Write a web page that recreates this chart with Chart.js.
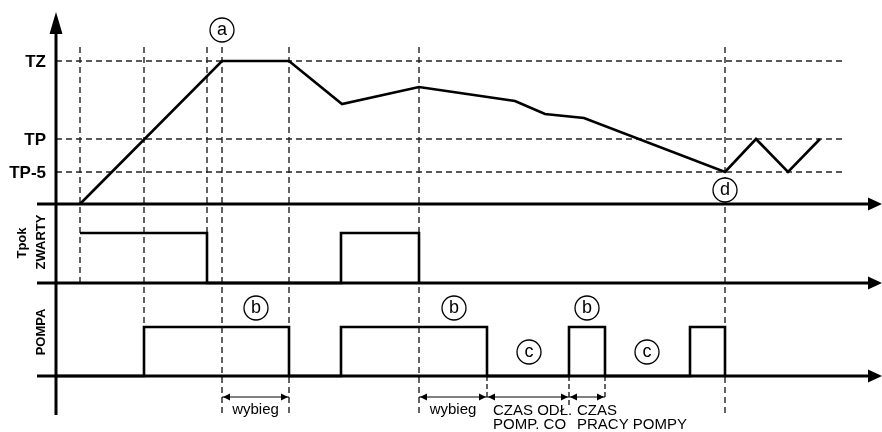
<!DOCTYPE html>
<html>
<head>
<title>Praca pompy CO - diagram</title>
<script src="https://cdn.jsdelivr.net/npm/chart.js"></script>
<style>
    body { margin: 0; background: #fff; }
    canvas { display: block; }
</style>
</head>
<body>
<canvas id="diagram" width="882" height="432"></canvas>
<script>
// temperatura (wysokosc nad osia czasu) w kolejnych chwilach
const tempTimes  = [80, 222, 289, 342, 419, 515, 545, 584, 725, 756, 788, 820];
const tempValues = [0, 143, 143, 100, 117, 103, 90, 86, 32, 65, 32, 65];
const tempLevels = [143, 65, 32];
const tempLabels = ['TZ', 'TP', 'TP-5'];

// Tpok zwarty (1) / rozwarty (0) - stan trzymany od danej chwili
const tpokTimes  = [80, 207, 341, 419];
const tpokStates = [1, 0, 1, 0];

// pompa wl (1) / wyl (0)
const pompaTimes  = [56, 144, 289, 341, 487, 569, 605, 690, 725];
const pompaStates = [0, 1, 0, 1, 0, 1, 0, 1, 0];

// chwile zaznaczone pionowymi liniami
const markTimes = [80, 144, 207, 222, 289, 419, 725];
const markEnds  = ['tpok', 'pompaHigh', 'tpok', 'bottom', 'bottom', 'bottom', 'bottom'];

// odcinki czasu opisane pod wykresem
const spanStarts = [222, 419, 487, 569];
const spanEnds   = [289, 487, 569, 605];
const spanTexts  = [['wybieg'], ['wybieg'], ['CZAS ODŁ.', 'POMP. CO'], ['CZAS', 'PRACY POMPY']];

// znaczniki w kolkach
const tagLetters = ['a', 'd', 'b', 'b', 'b', 'c', 'c'];
const tagTimes   = [222, 725, 256, 454, 587, 529, 647];
const tagRows    = ['top', 'tempLow', 'pompaTag', 'pompaTag', 'pompaTag', 'pompaMid', 'pompaMid'];

// uklad (piksele wykresu)
const L = {
    axisX: 56, axisLeft: 37, axisRight: 880, guideRight: 843,
    tempBase: 204, tpokBase: 283, pompaBase: 376, tpokAmp: 50, pompaAmp: 49,
    guideTop: 47, bottom: 415, spanY: 397
};
const rowY = {
    top: 30, tempLow: 190, pompaTag: 308, pompaMid: 352,
    tpok: L.tpokBase, pompaHigh: L.pompaBase - L.pompaAmp, bottom: L.bottom
};

const pts = (xs, ys) => xs.map((t, i) => ({x: t, y: ys[i]}));
const DASH = [6, 4];

const datasets = [];
// poziome linie pomocnicze TZ / TP / TP-5
tempLevels.forEach(v => {
    datasets.push({ data: pts([L.axisX, L.guideRight], [L.tempBase - v, L.tempBase - v]),
        borderColor: '#222', borderWidth: 1.4, borderDash: DASH, order: 5 });
});
// pionowe linie pomocnicze
markTimes.forEach((t, i) => {
    datasets.push({ data: pts([t, t], [L.guideTop, rowY[markEnds[i]]]),
        borderColor: '#222', borderWidth: 1.4, borderDash: DASH, order: 5 });
});
// krotkie pionowe przy odcinkach
[487, 569, 605].forEach((t, i) => {
    datasets.push({ data: pts([t, t], [L.pompaBase, [398, 407, 398][i]]),
        borderColor: '#222', borderWidth: 1.4, borderDash: [5, 3], order: 5 });
});
// osie
[L.tempBase, L.tpokBase, L.pompaBase].forEach(yb => {
    datasets.push({ data: pts([L.axisLeft, L.axisRight - 8], [yb, yb]),
        borderColor: '#000', borderWidth: 3, order: 2 });
});
datasets.push({ data: pts([L.axisX, L.axisX], [L.bottom, 28]),
    borderColor: '#000', borderWidth: 3, order: 2 });
// przebiegi
datasets.push({ data: pts(tempTimes, tempValues.map(v => L.tempBase - v)),
    borderColor: '#000', borderWidth: 2.6, order: 1 });
datasets.push({ data: pts(tpokTimes, tpokStates.map(s => L.tpokBase - s * L.tpokAmp)),
    borderColor: '#000', borderWidth: 2.6, stepped: true, order: 1 });
datasets.push({ data: pts(pompaTimes, pompaStates.map(s => L.pompaBase - s * L.pompaAmp)),
    borderColor: '#000', borderWidth: 2.6, stepped: true, order: 1 });
// odcinki wymiarowe
spanStarts.forEach((s, i) => {
    datasets.push({ data: pts([s, spanEnds[i]], [L.spanY, L.spanY]),
        borderColor: '#000', borderWidth: 1, order: 1 });
});

const FONT = '"Liberation Sans", Arial, sans-serif';

const extras = {
    id: 'extras',
    afterDatasetsDraw(chart) {
        const {ctx, scales: {x, y}} = chart;
        const X = v => x.getPixelForValue(v), Y = v => y.getPixelForValue(v);
        ctx.save();
        ctx.fillStyle = '#000';

        const tri = (a, b, c) => {
            ctx.beginPath(); ctx.moveTo(a[0], a[1]); ctx.lineTo(b[0], b[1]); ctx.lineTo(c[0], c[1]);
            ctx.closePath(); ctx.fill();
        };
        // groty osi
        [L.tempBase, L.tpokBase, L.pompaBase].forEach(yb => {
            tri([X(L.axisRight + 2), Y(yb)], [X(L.axisRight - 12), Y(yb) - 6.5], [X(L.axisRight - 12), Y(yb) + 6.5]);
        });
        tri([X(L.axisX), Y(12)], [X(L.axisX) - 6.5, Y(34)], [X(L.axisX) + 6.5, Y(34)]);

        // groty odcinkow wymiarowych
        spanStarts.forEach((s, i) => {
            const e = spanEnds[i], yy = Y(L.spanY);
            tri([X(s) + 1, yy], [X(s) + 8, yy - 3.5], [X(s) + 8, yy + 3.5]);
            tri([X(e) - 1, yy], [X(e) - 8, yy - 3.5], [X(e) - 8, yy + 3.5]);
        });

        // opisy poziomow temperatury
        ctx.font = 'bold 17px ' + FONT;
        ctx.textAlign = 'right';
        ctx.textBaseline = 'middle';
        tempLevels.forEach((v, i) => ctx.fillText(tempLabels[i], X(46), Y(L.tempBase - v) + 1));

        // opisy wierszy (pionowo)
        ctx.font = 'bold 13px ' + FONT;
        ctx.textAlign = 'center';
        const vText = (t, cx, cy) => {
            ctx.save(); ctx.translate(cx, cy); ctx.rotate(-Math.PI / 2);
            ctx.fillText(t, 0, 0); ctx.restore();
        };
        vText('Tpok', X(22), Y(243));
        vText('ZWARTY', X(41), Y(242));
        vText('POMPA', X(41), Y(332));

        // opisy odcinkow
        ctx.font = '15px ' + FONT;
        spanTexts.forEach((lines, i) => {
            const single = lines.length === 1;
            ctx.textAlign = single ? 'center' : 'left';
            const tx = single ? X((spanStarts[i] + spanEnds[i]) / 2) : X(spanStarts[i]) + (i === 3 ? 8 : 6);
            lines.forEach((ln, k) => ctx.fillText(ln, tx, Y(single ? 410 : 411 + k * 14)));
        });

        // znaczniki w kolkach
        ctx.font = '18px ' + FONT;
        ctx.textAlign = 'center';
        tagLetters.forEach((l, i) => {
            const cx = X(tagTimes[i]), cy = Y(rowY[tagRows[i]]);
            ctx.beginPath(); ctx.arc(cx, cy, 12, 0, Math.PI * 2);
            ctx.fillStyle = '#fff'; ctx.fill();
            ctx.lineWidth = 1.3; ctx.strokeStyle = '#000'; ctx.stroke();
            ctx.fillStyle = '#000';
            ctx.fillText(l, cx, cy);
        });
        ctx.restore();
    }
};

new Chart(document.getElementById('diagram'), {
    type: 'line',
    data: { datasets: datasets },
    options: {
        responsive: false,
        animation: false,
        devicePixelRatio: 1,
        layout: { padding: 0 },
        elements: { point: { radius: 0 }, line: { tension: 0, borderCapStyle: 'butt' } },
        plugins: { legend: { display: false }, tooltip: { enabled: false } },
        scales: {
            x: { type: 'linear', display: false, min: 0, max: 882 },
            y: { type: 'linear', display: false, min: 0, max: 432, reverse: true }
        }
    },
    plugins: [extras]
});
</script>
</body>
</html>
